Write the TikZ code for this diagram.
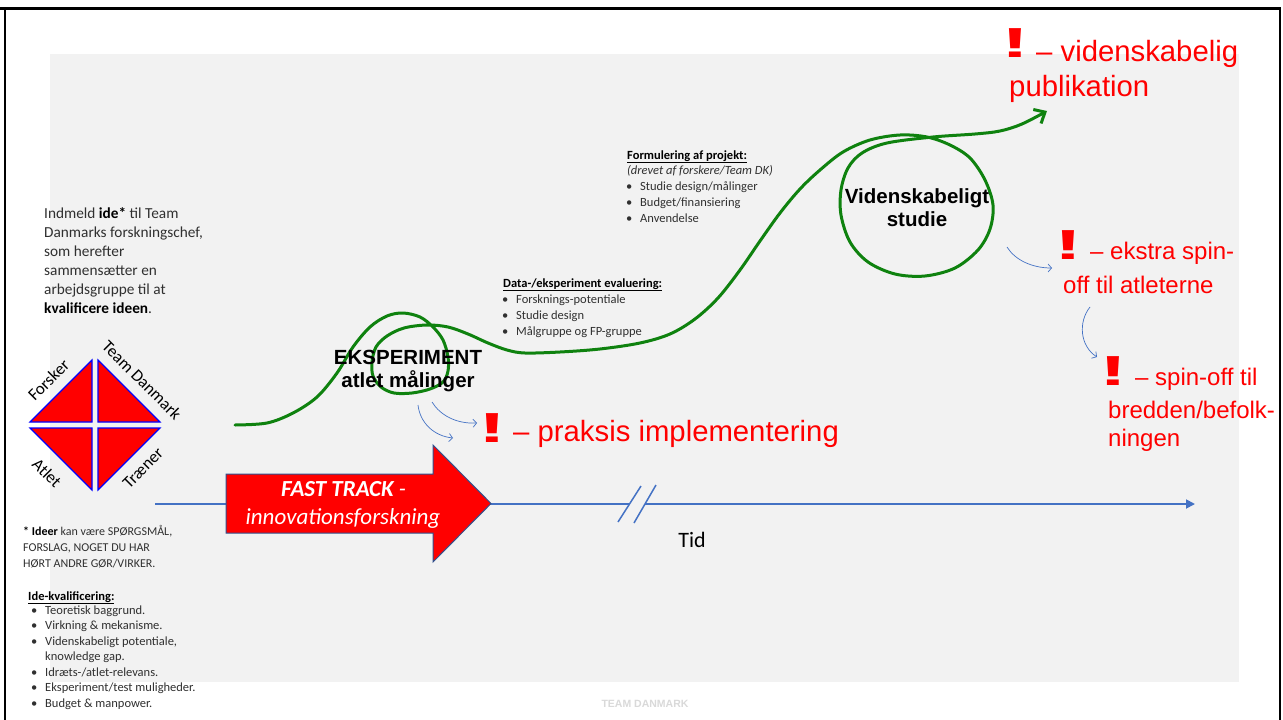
\documentclass[tikz,border=0pt]{standalone}
\usepackage{fontspec}
\usepackage{graphicx}
\setmainfont{Carlito}
\newfontfamily\arialf{Liberation Sans}
\usetikzlibrary{arrows.meta}
\definecolor{bggray}{HTML}{F2F2F2}
\definecolor{tlblue}{HTML}{4472C4}
\definecolor{grn}{HTML}{0F820F}
\definecolor{txt}{HTML}{303030}
\definecolor{dblue}{HTML}{2F528F}
\definecolor{footgray}{HTML}{D9D9D9}
\newcommand\fsz[2]{\fontsize{#1}{#2}\selectfont}
\newcommand\bul{\makebox[14pt][l]{\textbullet}}
\newcommand\bulsp{\hspace*{14pt}}
\begin{document}
\begin{tikzpicture}[x=1pt,y=-1pt,
  lbl/.style={inner sep=0, anchor=base west, align=left},
  tri/.style={fill=red, draw=blue, line width=1.2pt, line join=miter},
  corner/.style={inner sep=0, font=\fsz{17}{20}, text=black},
  excl/.style={inner sep=0, anchor=base, text=red, font=\arialf\bfseries\fsz{42}{42}},
  rbig/.style={inner sep=0, anchor=base west, text=red, font=\arialf\fsz{29.3}{34}},
  rsmall/.style={inner sep=0, anchor=base west, text=red, font=\arialf\fsz{24}{29}},
  bigb/.style={inner sep=0, anchor=base, align=center, font=\arialf\bfseries\fsz{20.5}{23}},
  thinarrow/.style={draw=tlblue, line width=0.7pt, -{Straight Barb[length=3.5pt,width=8pt]}},
  tlline/.style={draw=tlblue, line width=1.8pt},
  grnline/.style={draw=grn, line width=3pt, line cap=round, line join=round, -{Straight Barb[length=9pt,width=16pt,line width=3pt]}}
]
\useasboundingbox (0,0) rectangle (1283,720);
\fill[white] (0,0) rectangle (1283,720);
\fill[bggray] (50,54) rectangle (1239,682);
% frame
\draw[black, line width=2.5pt] (5,720) -- (5,8.5) -- (1280,8.5) -- (1280,720);
\draw[black, line width=2.5pt] (0,8.5) -- (5,8.5);

% footer
\node[inner sep=0, text=footgray, font=\arialf\bfseries\fsz{10.5}{12}] (foot) at (645,704) {TEAM DANMARK};

% left intro text (anchor = baseline of last line)
\node[lbl, font=\fsz{15.3}{19}, text=txt] (intro) at (44,313)
 {Indmeld \textbf{\color{black}ide*} til Team\\Danmarks forskningschef,\\som herefter\\sammensætter en\\arbejdsgruppe til at\\\textbf{\color{black}kvalificere ideen}.};

% diamond
\path[tri] (30,422) -- (92,422) -- (92,360) -- cycle;
\path[tri] (98,360) -- (98,422) -- (160,422) -- cycle;
\path[tri] (30,428) -- (92,428) -- (92,490) -- cycle;
\path[tri] (98,428) -- (160,428) -- (98,490) -- cycle;
\node[corner, rotate=45] (forsker) at (48.5,380) {Forsker};
\node[corner, rotate=-45] (teamdk) at (142,380) {Team Danmark};
\node[corner, rotate=-45] (atlet) at (47,473) {Atlet};
\node[corner, rotate=45] (traener) at (143,468) {Træner};

% bottom-left texts
\node[lbl, font=\fsz{12}{16}, text=txt] (ideer) at (23,567)
 {\textbf{\color{black}* Ideer} kan være SPØRGSMÅL,\\FORSLAG, NOGET DU HAR\\HØRT ANDRE GØR/VIRKER.};
\node[lbl, font=\bfseries\fsz{12.5}{15.5}, text=black] (idekv) at (28,600) {\underline{Ide-kvalificering:}};
\node[lbl, font=\fsz{12.5}{15.5}, text=txt] (idelist) at (31,707)
 {\bul Teoretisk baggrund.\\\bul Virkning \& mekanisme.\\\bul Videnskabeligt potentiale,\\\bulsp knowledge gap.\\\bul Idræts-/atlet-relevans.\\\bul Eksperiment/test muligheder.\\\bul Budget \& manpower.};

% middle texts
\node[lbl, font=\bfseries\fsz{12.5}{16}, text=black] (dataT) at (503,287) {\underline{Data-/eksperiment evaluering:}};
\node[lbl, font=\fsz{12.5}{16}, text=txt] (dataL) at (502,335)
 {\bul Forsknings-potentiale\\\bul Studie design\\\bul Målgruppe og FP-gruppe};
\node[lbl, font=\bfseries\fsz{12.5}{15.75}, text=black] (formT) at (627,159) {\underline{Formulering af projekt:}};
\node[lbl, font=\itshape\fsz{12.5}{15.75}, text=txt] (formI) at (627,174.75) {(drevet af forskere/Team DK)};
\node[lbl, font=\fsz{12.5}{15.75}, text=txt] (formL) at (626,222)
 {\bul Studie design/målinger\\\bul Budget/finansiering\\\bul Anvendelse};

% timeline
\coordinate (tl0) at (155,504);
\coordinate (brkA) at (629.5,504);
\coordinate (brkB) at (645,504);
\coordinate (tlend) at (1195,504);
\draw[tlline] (tl0) -- (brkA);
\draw[tlline, -{Triangle[length=9pt,width=9pt]}] (brkB) -- (tlend);
\draw[draw=tlblue, line width=1.5pt] (618,522) -- (641,486);
\draw[draw=tlblue, line width=1.5pt] (634,523) -- (656,485);
\node[inner sep=0, anchor=base, font=\fsz{22}{24}] (tid) at (692,547) {Tid};

% fast track arrow
\path[fill=red, draw=dblue, line width=1pt, line join=miter]
  (226,474) -- (433,474) -- (433,445) -- (491,503.5) -- (433,562) -- (433,533) -- (226,533) -- cycle;
\node[inner sep=0, anchor=base, text=white, font=\itshape\fsz{23}{26}] (ft1) at (343.5,496) {\textbf{FAST TRACK} -};
\node[inner sep=0, anchor=base, text=white, font=\itshape\fsz{23}{26}] (ft2) at (343,524) {innovationsforskning};

% green curve
\draw[grnline] plot[smooth, tension=0.55] coordinates {
 (235,425) (267,423) (293,413) (317,397) (337,373) (353,347) (370,327) (387,316) (403,313)
 (420,317) (433,327) (443,340) (448,357) (448,371) (443,382) (430,389) (412,393) (394,393)
 (381,387) (373,376) (372,362) (376,347) (387,336) (404,328) (427,325) (448,327) (468,334)
 (488,343) (507,350) (525,353) (560,352) (600,349) (640,343) (670,334) (695,319) (718,298)
 (740,270) (760,241) (780,213) (800,189) (820,170) (843,152) (870,140) (900,135) (927,137) (950,145)
 (970,158) (985,180) (993,205) (990,229) (978,250) (955,268) (925,276) (895,274) (868,262)
 (850,242) (841,215) (841,190) (848,168) (862,153) (887,143) (933,137) (975,134) (1000,131)
 (1022,124) (1047,111)};

% bold labels (anchor = baseline of last line)
\node[bigb] (eksp) at (408,387) {EKSPERIMENT\\atlet målinger};
\node[bigb] (vid) at (917,226) {Videnskabeligt\\studie};

% thin blue arrows
\coordinate (a1s) at (418,405); \coordinate (a1e) at (453,438);
\coordinate (a2s) at (432,402); \coordinate (a2e) at (477,423);
\coordinate (a3s) at (1007,247); \coordinate (a3e) at (1052,268);
\coordinate (a4s) at (1090,307); \coordinate (a4e) at (1097,357);
\draw[thinarrow] (a1s) .. controls (420,423) and (434,436) .. (a1e);
\draw[thinarrow] (a2s) .. controls (440,415) and (456,424) .. (a2e);
\draw[thinarrow] (a3s) .. controls (1015,260) and (1032,268) .. (a3e);
\draw[thinarrow] (a4s) .. controls (1078,322) and (1080,346) .. (a4e);

% red outcome labels
\node[excl] (x1) at (1015.5,57) {\scalebox{2}[1]{!}};
\node[rbig] (t1a) at (1036,61) {– videnskabelig};
\node[rbig] (t1b) at (1009,96) {publikation};
\node[excl] (x2) at (1068.5,259) {\scalebox{2}[1]{!}};
\node[rsmall] (t2a) at (1090,259) {– ekstra spin-};
\node[rsmall] (t2b) at (1063,293) {off til atleterne};
\node[excl] (x3) at (1113,385) {\scalebox{2}[1]{!}};
\node[rsmall] (t3a) at (1135,385) {– spin-off til};
\node[rsmall] (t3b) at (1108,418) {bredden/befolk-};
\node[rsmall] (t3c) at (1108,446) {ningen};
\node[excl] (x4) at (492,442) {\scalebox{2}[1]{!}};
\node[rbig] (t4) at (513,441) {– praksis implementering};
\end{tikzpicture}
\end{document}
